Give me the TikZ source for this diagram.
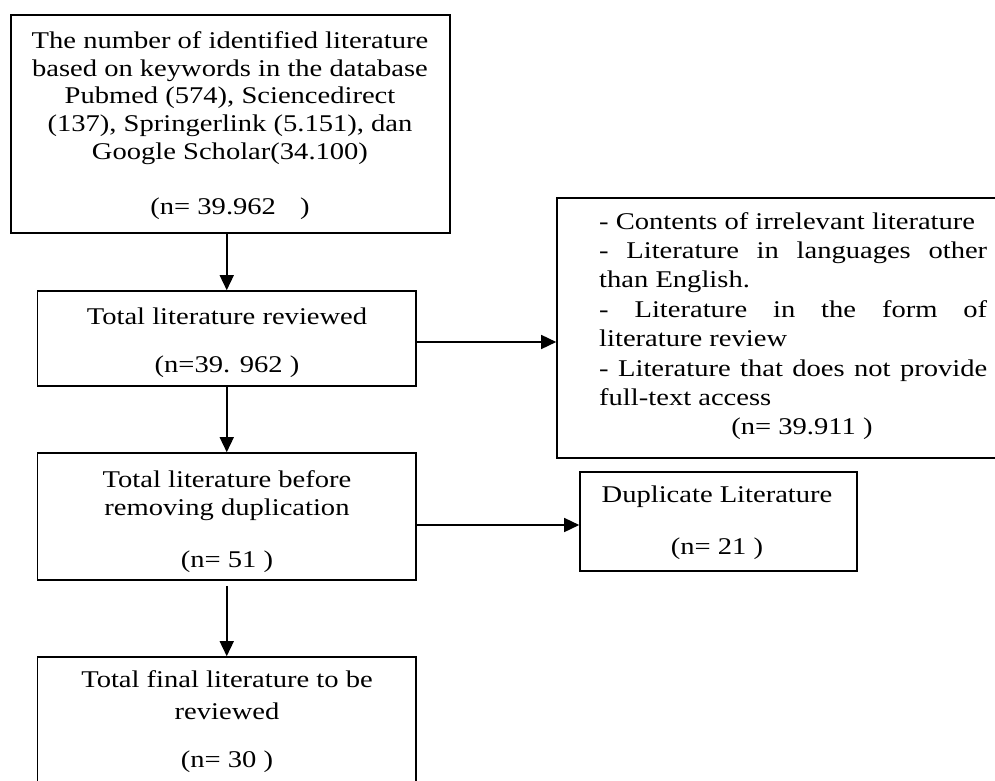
\documentclass[tikz,border=0pt]{standalone}
\usepackage{fontspec}
\setmainfont{Liberation Serif}[FakeStretch=1.19]
\usetikzlibrary{arrows.meta}
\begin{document}
\begin{tikzpicture}[x=1pt,y=-1pt,
  box/.style={draw=black, line width=1.6pt, inner sep=0pt, rectangle},
  txt/.style={anchor=base, inner sep=0pt, font=\fontsize{24}{27.5}\selectfont},
  ltxt/.style={anchor=base west, inner sep=0pt, font=\fontsize{24}{27.5}\selectfont},
  arr/.style={line width=1.5pt, -{Triangle[length=15pt,width=14pt]}}]
\useasboundingbox (0,0) rectangle (995,781);
\clip (0,0) rectangle (995,781);
\fill[white] (0,0) rectangle (995,781);
% boxes
\node[box, minimum width=439pt, minimum height=218pt] (b1) at (230.5,124) {};
\node[box, minimum width=378.5pt, minimum height=95pt] (b2) at (226.75,338.5) {};
\node[box, minimum width=448pt, minimum height=260pt] (b3) at (781,328) {};
\node[box, minimum width=378.5pt, minimum height=127pt] (b4) at (226.75,516.5) {};
\node[box, minimum width=277pt, minimum height=99pt] (b5) at (718.5,521.5) {};
\node[box, minimum width=378.5pt, minimum height=143pt] (b6) at (226.75,728.5) {};
% box 1 text
\node[txt] (t1a) at (230,49) {The number of identified literature};
\node[txt] (t1b) at (230,76.5) {based on keywords in the database};
\node[txt] (t1c) at (230,104) {Pubmed (574), Sciencedirect};
\node[txt] (t1d) at (230,131.5) {(137), Springerlink (5.151), dan};
\node[txt] (t1e) at (230,159) {Google Scholar(34.100)};
\node[txt] (t1n) at (230,214) {(n= 39.962\quad)};
% box 2 text
\node[txt] (t2a) at (227,324) {Total literature reviewed};
\node[txt] (t2n) at (227,372) {(n=39. 962 )};
% box 3 text
\node[ltxt] (t3a) at (599,229) {- Contents of irrelevant literature};
\node[ltxt] (t3b) at (599,258.4) {\makebox[388pt][s]{- Literature in languages other}};
\node[ltxt] (t3c) at (599,287.8) {than English.};
\node[ltxt] (t3d) at (599,317.2) {\makebox[388pt][s]{- Literature in the form of}};
\node[ltxt] (t3e) at (599,346.6) {literature review};
\node[ltxt] (t3f) at (599,376) {\makebox[388pt][s]{- Literature that does not provide}};
\node[ltxt] (t3g) at (599,405.4) {full-text access};
\node[txt] (t3n) at (802,434.8) {(n= 39.911 )};
% box 4 text
\node[txt] (t4a) at (227,487) {Total literature before};
\node[txt] (t4b) at (227,515) {removing duplication};
\node[txt] (t4n) at (227,567) {(n= 51 )};
% box 5 text
\node[txt] (t5a) at (717,502) {Duplicate Literature};
\node[txt] (t5n) at (717,554) {(n= 21 )};
% box 6 text
\node[txt] (t6a) at (227,687) {Total final literature to be};
\node[txt] (t6b) at (227,719) {reviewed};
\node[txt] (t6n) at (227,767) {(n= 30 )};
% connectors
\coordinate (c2) at (0,342);
\coordinate (c4) at (0,525);
\draw[arr] (b1.south -| b2.north) -- (b2.north);
\draw[arr] (b2.east |- c2) -- (b3.west |- c2);
\draw[arr] (b2.south) -- (b4.north);
\draw[arr] (b4.east |- c4) -- (b5.west |- c4);
\draw[arr, shorten <=5pt] (b4.south) -- (b6.north);
\end{tikzpicture}
\end{document}
